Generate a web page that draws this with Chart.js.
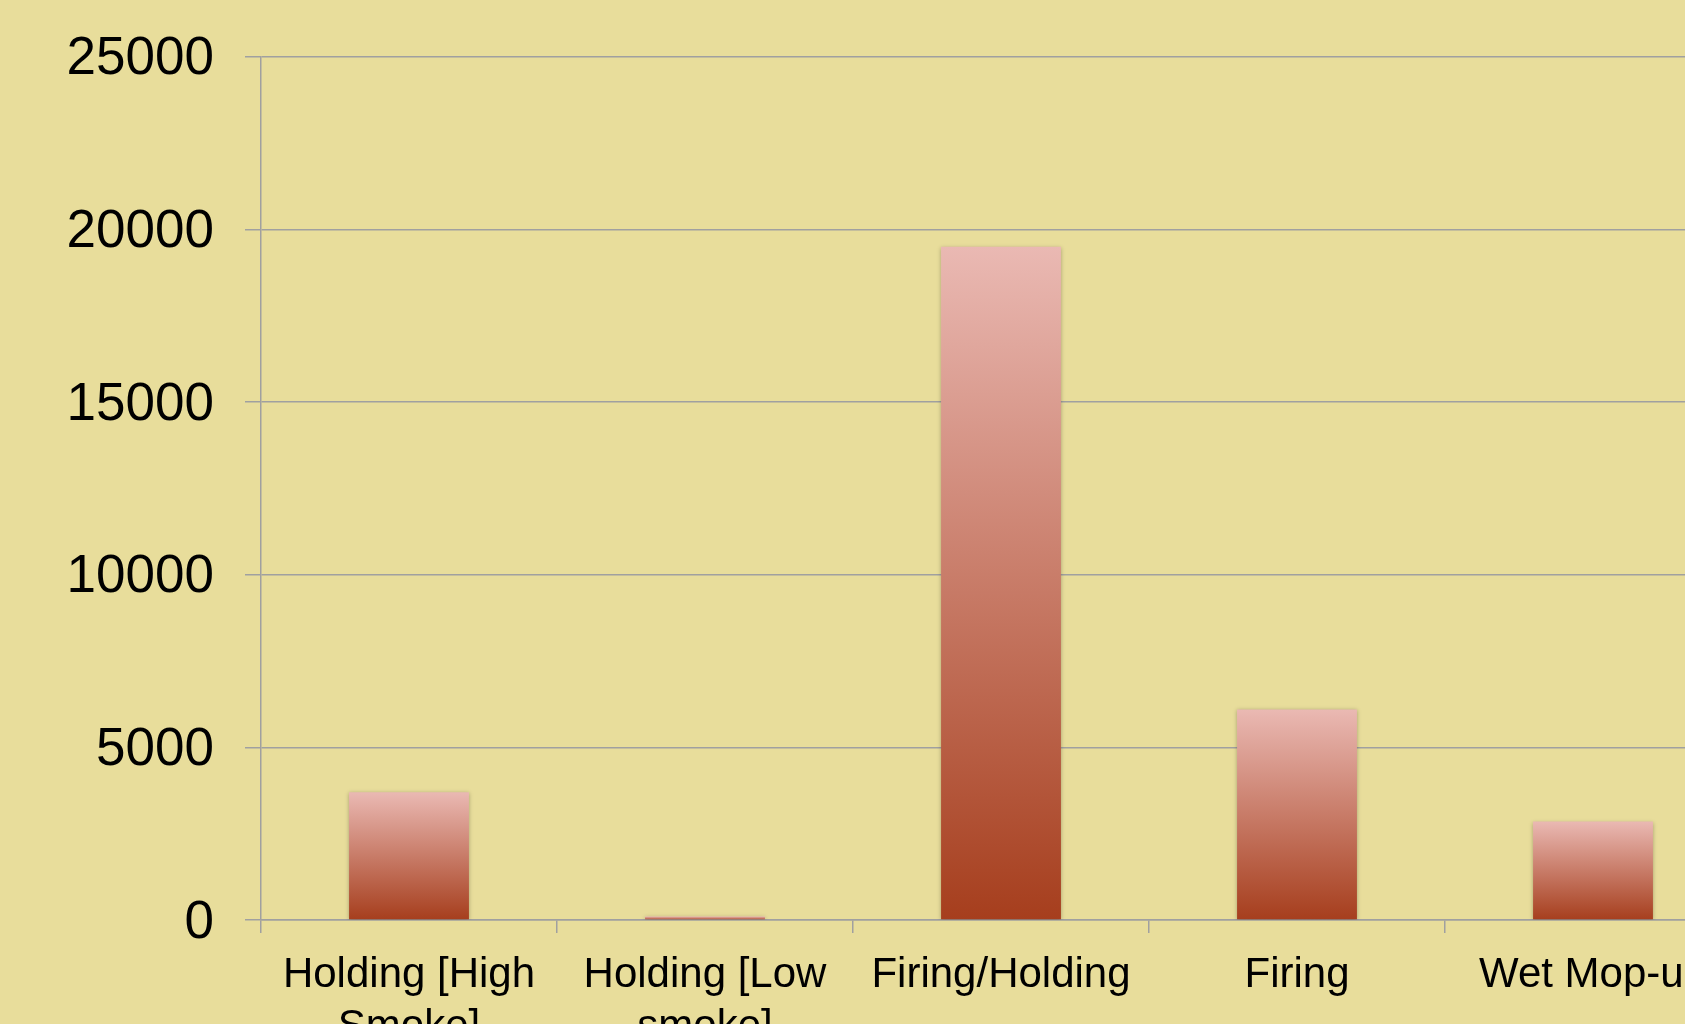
<!DOCTYPE html>
<html>
<head>
<meta charset="utf-8">
<script src="https://cdn.jsdelivr.net/npm/chart.js@4/dist/chart.umd.min.js"></script>
<style>
  html, body { margin: 0; padding: 0; overflow: hidden; background: #e8dd9b; }
  #wrap { position: absolute; left: 0; top: -6px; width: 1741px; height: 1106px; }
</style>
</head>
<body>
<div id="wrap"><canvas id="chart"></canvas></div>
<script>
const categories = [
  ['Holding [High', 'Smoke]'],
  ['Holding [Low', 'smoke]'],
  'Firing/Holding',
  'Firing',
  'Wet Mop-up',
];
const values = [3700, 100, 19500, 6100, 2850];
const yTicks = [0, 5000, 10000, 15000, 20000, 25000];

const BAR_TOP = '#eab9b3';
const BAR_BOTTOM = '#a63e1d';
const GRID = '#a0a0a0';
const FONT = '"Liberation Sans", Arial, Helvetica, sans-serif';

// each bar gets its own top-to-bottom gradient
function barFill(ctx) {
  const chart = ctx.chart;
  const y = chart.scales.y;
  if (!y || ctx.type !== 'data') return BAR_TOP;
  const top = y.getPixelForValue(values[ctx.dataIndex]);
  const bottom = y.getPixelForValue(0);
  if (!isFinite(top) || !isFinite(bottom) || bottom - top < 1) return BAR_TOP;
  const g = chart.ctx.createLinearGradient(0, top, 0, bottom);
  g.addColorStop(0, BAR_TOP);
  g.addColorStop(1, BAR_BOTTOM);
  return g;
}

// soft drop shadow under the bars
const barShadow = {
  id: 'barShadow',
  beforeDatasetsDraw(chart) {
    const c = chart.ctx;
    c.save();
    c.shadowColor = 'rgba(0, 0, 0, 0.28)';
    c.shadowBlur = 4;
    c.shadowOffsetX = 0;
    c.shadowOffsetY = 1;
  },
  afterDatasetsDraw(chart) {
    chart.ctx.restore();
  },
};

new Chart(document.getElementById('chart'), {
  type: 'bar',
  data: {
    labels: categories,
    datasets: [{
      data: values,
      backgroundColor: barFill,
      borderWidth: 0,
      categoryPercentage: 1,
      barPercentage: 0.405,
    }],
  },
  options: {
    responsive: true,
    maintainAspectRatio: false,
    animation: false,
    layout: { padding: 0 },
    plugins: {
      legend: { display: false },
      tooltip: { enabled: false },
    },
    scales: {
      x: {
        grid: { drawOnChartArea: false, drawTicks: true, tickLength: 13, color: GRID, lineWidth: 1.5 },
        border: { color: GRID, width: 1.5 },
        ticks: {
          color: '#000',
          font: { family: FONT, size: 42, lineHeight: 1.23 },
          padding: 17,
          maxRotation: 0,
          autoSkip: false,
        },
        afterFit(scale) { scale.height = 180; },
      },
      y: {
        min: 0,
        max: 25000,
        afterBuildTicks(scale) { scale.ticks = yTicks.map(v => ({ value: v })); },
        grid: { color: GRID, lineWidth: 1.5, tickLength: 16 },
        border: { color: GRID, width: 1.5 },
        ticks: {
          color: '#000',
          font: { family: FONT, size: 53 },
          padding: 31,
          labelOffset: 3,
          callback: v => String(v),
        },
        afterFit(scale) { scale.width = 261; },
      },
    },
  },
  plugins: [barShadow],
});
</script>
</body>
</html>
